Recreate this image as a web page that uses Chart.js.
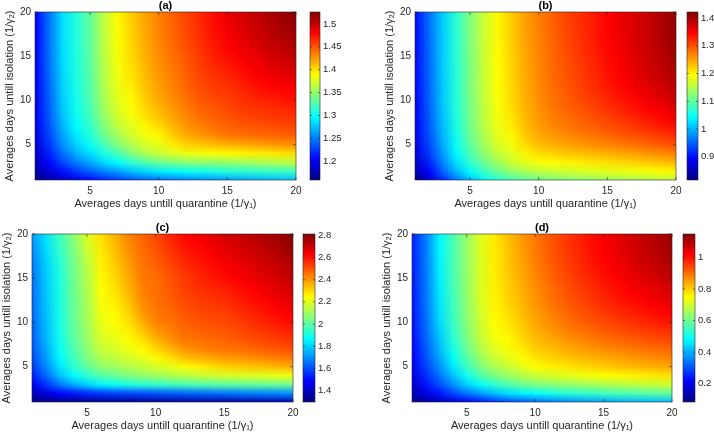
<!DOCTYPE html>
<html>
<head>
<meta charset="utf-8">
<script src="https://cdn.jsdelivr.net/npm/chart.js"></script>
<style>
  body { margin: 0; width: 714px; height: 436px; background: #fff; position: relative; overflow: hidden; }
  canvas { position: absolute; }
</style>
</head>
<body>
<script>
// grid coordinates (days)
const quarantineDays = [1, 2, 3, 4, 5, 6, 7, 8, 9, 10, 11, 12, 13, 14, 15, 16, 17, 18, 19, 20];
const isolationDays = [1, 2, 3, 4, 5, 6, 7, 8, 9, 10, 11, 12, 13, 14, 15, 16, 17, 18, 19, 20];
const axisTicks = [5, 10, 15, 20];
const xTitle = 'Averages days untill quarantine (1/γ₁)';
const yTitle = 'Averages days untill isolation (1/γ₂)';

// each inner array is one quarantine column (x = 1..20), values from isolation = 1 up to 20
const colsA = [
  [1.160,1.172,1.181,1.187,1.192,1.195,1.197,1.199,1.200,1.201,1.202,1.203,1.203,1.204,1.204,1.205,1.205,1.205,1.206,1.206],
  [1.172,1.192,1.206,1.216,1.224,1.229,1.233,1.236,1.238,1.240,1.241,1.242,1.243,1.244,1.245,1.245,1.246,1.246,1.246,1.247],
  [1.184,1.210,1.230,1.245,1.256,1.264,1.270,1.274,1.277,1.279,1.281,1.282,1.283,1.284,1.285,1.285,1.286,1.286,1.286,1.287],
  [1.196,1.226,1.250,1.268,1.281,1.290,1.296,1.300,1.302,1.304,1.305,1.306,1.307,1.307,1.308,1.308,1.309,1.309,1.309,1.310],
  [1.207,1.240,1.266,1.285,1.299,1.309,1.315,1.320,1.323,1.325,1.327,1.328,1.329,1.330,1.330,1.331,1.332,1.332,1.333,1.333],
  [1.217,1.253,1.283,1.305,1.322,1.334,1.343,1.349,1.354,1.357,1.359,1.361,1.362,1.363,1.364,1.365,1.365,1.366,1.366,1.366],
  [1.226,1.262,1.297,1.322,1.343,1.356,1.365,1.371,1.375,1.378,1.380,1.382,1.384,1.385,1.386,1.387,1.388,1.389,1.390,1.390],
  [1.233,1.275,1.312,1.343,1.360,1.371,1.378,1.383,1.387,1.390,1.393,1.396,1.398,1.400,1.402,1.403,1.404,1.405,1.406,1.406],
  [1.240,1.283,1.325,1.358,1.374,1.384,1.391,1.397,1.402,1.406,1.409,1.411,1.413,1.415,1.417,1.418,1.419,1.420,1.421,1.422],
  [1.245,1.290,1.335,1.368,1.380,1.390,1.400,1.408,1.414,1.419,1.422,1.424,1.426,1.428,1.430,1.431,1.432,1.433,1.433,1.434],
  [1.250,1.295,1.340,1.376,1.395,1.406,1.414,1.420,1.425,1.429,1.432,1.434,1.436,1.438,1.440,1.442,1.443,1.444,1.445,1.446],
  [1.253,1.300,1.345,1.381,1.404,1.418,1.426,1.431,1.435,1.439,1.442,1.444,1.446,1.448,1.450,1.452,1.453,1.454,1.455,1.456],
  [1.256,1.303,1.347,1.384,1.408,1.424,1.433,1.439,1.444,1.448,1.451,1.454,1.456,1.458,1.460,1.462,1.464,1.465,1.466,1.467],
  [1.259,1.306,1.348,1.387,1.412,1.431,1.440,1.445,1.449,1.453,1.457,1.460,1.463,1.466,1.469,1.471,1.473,1.475,1.476,1.477],
  [1.262,1.310,1.350,1.390,1.415,1.437,1.445,1.449,1.453,1.457,1.460,1.464,1.468,1.472,1.476,1.479,1.482,1.484,1.486,1.487],
  [1.265,1.312,1.353,1.392,1.418,1.439,1.448,1.453,1.458,1.462,1.466,1.470,1.474,1.478,1.482,1.486,1.489,1.491,1.493,1.494],
  [1.268,1.314,1.356,1.394,1.421,1.441,1.450,1.456,1.461,1.466,1.471,1.476,1.480,1.484,1.488,1.492,1.495,1.498,1.500,1.501],
  [1.270,1.316,1.359,1.396,1.423,1.442,1.451,1.458,1.463,1.469,1.475,1.480,1.485,1.490,1.495,1.499,1.502,1.505,1.507,1.508],
  [1.273,1.318,1.362,1.398,1.426,1.444,1.453,1.460,1.466,1.472,1.478,1.483,1.489,1.494,1.499,1.504,1.508,1.511,1.514,1.515],
  [1.275,1.320,1.365,1.400,1.428,1.445,1.455,1.462,1.468,1.474,1.480,1.486,1.492,1.498,1.503,1.508,1.512,1.516,1.519,1.522]
];
const colorTicksA = [1.2, 1.25, 1.3, 1.35, 1.4, 1.45, 1.5];
const limitsA = [1.159, 1.526];

const colsB = [
  [0.820,0.845,0.860,0.870,0.877,0.882,0.886,0.889,0.891,0.893,0.894,0.895,0.896,0.897,0.898,0.898,0.899,0.899,0.900,0.900],
  [0.860,0.893,0.912,0.925,0.934,0.940,0.944,0.947,0.949,0.951,0.952,0.953,0.954,0.955,0.955,0.956,0.956,0.957,0.957,0.957],
  [0.915,0.950,0.970,0.984,0.993,0.999,1.003,1.006,1.008,1.010,1.011,1.012,1.013,1.013,1.014,1.014,1.014,1.015,1.015,1.015],
  [0.965,1.002,1.025,1.040,1.049,1.055,1.059,1.062,1.064,1.065,1.066,1.067,1.068,1.068,1.069,1.069,1.069,1.070,1.070,1.070],
  [1.005,1.045,1.072,1.089,1.100,1.107,1.111,1.114,1.116,1.117,1.118,1.119,1.119,1.120,1.120,1.120,1.121,1.121,1.121,1.121],
  [1.040,1.080,1.108,1.127,1.140,1.148,1.153,1.156,1.158,1.160,1.161,1.162,1.163,1.163,1.164,1.164,1.165,1.165,1.165,1.165],
  [1.065,1.108,1.138,1.158,1.170,1.178,1.183,1.187,1.190,1.192,1.193,1.194,1.195,1.196,1.196,1.197,1.197,1.198,1.198,1.198],
  [1.085,1.130,1.162,1.176,1.189,1.197,1.204,1.209,1.213,1.216,1.218,1.219,1.220,1.221,1.222,1.223,1.224,1.224,1.225,1.225],
  [1.100,1.145,1.181,1.202,1.217,1.226,1.232,1.236,1.239,1.241,1.243,1.244,1.245,1.246,1.247,1.248,1.249,1.250,1.251,1.251],
  [1.110,1.155,1.190,1.213,1.233,1.244,1.252,1.256,1.259,1.262,1.263,1.264,1.265,1.266,1.267,1.268,1.269,1.270,1.271,1.271],
  [1.117,1.162,1.196,1.221,1.242,1.255,1.265,1.270,1.274,1.278,1.280,1.282,1.283,1.284,1.285,1.286,1.287,1.288,1.289,1.289],
  [1.123,1.167,1.201,1.227,1.249,1.263,1.274,1.280,1.286,1.290,1.293,1.295,1.297,1.298,1.300,1.302,1.303,1.304,1.305,1.305],
  [1.128,1.171,1.205,1.232,1.255,1.270,1.282,1.289,1.296,1.301,1.305,1.308,1.310,1.311,1.314,1.316,1.317,1.318,1.319,1.319],
  [1.133,1.175,1.209,1.237,1.261,1.277,1.290,1.298,1.306,1.312,1.317,1.321,1.322,1.324,1.327,1.329,1.330,1.331,1.332,1.332],
  [1.137,1.179,1.213,1.242,1.267,1.284,1.298,1.307,1.316,1.323,1.329,1.333,1.336,1.338,1.341,1.343,1.344,1.345,1.345,1.345],
  [1.141,1.183,1.217,1.247,1.273,1.291,1.306,1.316,1.326,1.334,1.340,1.345,1.348,1.350,1.353,1.355,1.356,1.357,1.357,1.357],
  [1.145,1.187,1.222,1.252,1.279,1.298,1.314,1.325,1.335,1.344,1.351,1.356,1.360,1.362,1.365,1.367,1.368,1.369,1.369,1.369],
  [1.149,1.191,1.227,1.258,1.286,1.305,1.322,1.334,1.345,1.354,1.361,1.367,1.371,1.374,1.377,1.379,1.380,1.381,1.381,1.381],
  [1.153,1.196,1.232,1.264,1.293,1.313,1.331,1.343,1.354,1.364,1.372,1.378,1.383,1.386,1.390,1.392,1.394,1.395,1.395,1.395],
  [1.157,1.200,1.237,1.270,1.300,1.321,1.340,1.353,1.365,1.375,1.384,1.391,1.396,1.399,1.403,1.406,1.408,1.409,1.410,1.410]
];
const colorTicksB = [0.9, 1, 1.1, 1.2, 1.3, 1.4];
const limitsB = [0.816, 1.422];

const colsC = [
  [1.300,1.380,1.470,1.530,1.570,1.595,1.612,1.624,1.633,1.640,1.645,1.649,1.652,1.655,1.658,1.664,1.675,1.690,1.705,1.720],
  [1.305,1.440,1.560,1.640,1.690,1.720,1.740,1.753,1.762,1.769,1.774,1.778,1.781,1.784,1.787,1.792,1.800,1.810,1.820,1.830],
  [1.310,1.490,1.660,1.770,1.830,1.860,1.878,1.888,1.894,1.898,1.901,1.903,1.905,1.906,1.908,1.915,1.925,1.937,1.949,1.960],
  [1.315,1.520,1.740,1.860,1.925,1.960,1.983,1.998,2.008,2.015,2.020,2.024,2.027,2.029,2.031,2.036,2.044,2.053,2.062,2.070],
  [1.320,1.545,1.800,1.930,2.010,2.050,2.075,2.090,2.100,2.108,2.114,2.119,2.123,2.127,2.131,2.138,2.150,2.165,2.182,2.200],
  [1.322,1.565,1.850,1.990,2.075,2.125,2.160,2.183,2.200,2.212,2.222,2.230,2.237,2.243,2.250,2.257,2.264,2.272,2.281,2.290],
  [1.325,1.580,1.880,2.020,2.100,2.150,2.185,2.208,2.226,2.240,2.252,2.263,2.274,2.287,2.300,2.312,2.324,2.336,2.348,2.360],
  [1.328,1.590,1.905,2.055,2.130,2.180,2.215,2.240,2.262,2.285,2.305,2.325,2.343,2.357,2.370,2.382,2.394,2.406,2.418,2.430],
  [1.330,1.600,1.925,2.080,2.155,2.205,2.245,2.285,2.325,2.360,2.390,2.410,2.424,2.432,2.440,2.447,2.455,2.462,2.469,2.475],
  [1.333,1.610,1.940,2.100,2.180,2.240,2.300,2.350,2.395,2.430,2.443,2.450,2.455,2.458,2.462,2.472,2.484,2.496,2.508,2.520],
  [1.336,1.620,1.955,2.120,2.205,2.285,2.350,2.400,2.428,2.448,2.464,2.476,2.486,2.494,2.500,2.512,2.527,2.542,2.556,2.570],
  [1.340,1.630,1.970,2.140,2.235,2.330,2.400,2.440,2.462,2.480,2.495,2.508,2.519,2.528,2.535,2.548,2.565,2.585,2.600,2.615],
  [1.343,1.640,1.980,2.155,2.260,2.360,2.420,2.452,2.475,2.495,2.512,2.527,2.540,2.552,2.563,2.577,2.592,2.608,2.624,2.640],
  [1.346,1.650,1.990,2.168,2.285,2.375,2.437,2.465,2.487,2.506,2.522,2.538,2.552,2.568,2.585,2.600,2.615,2.632,2.648,2.665],
  [1.350,1.660,2.000,2.180,2.310,2.390,2.450,2.475,2.495,2.515,2.530,2.550,2.565,2.585,2.610,2.625,2.640,2.655,2.672,2.690],
  [1.353,1.668,2.006,2.188,2.320,2.402,2.460,2.490,2.512,2.532,2.550,2.570,2.587,2.606,2.630,2.645,2.660,2.676,2.693,2.710],
  [1.356,1.675,2.012,2.196,2.330,2.414,2.472,2.505,2.530,2.552,2.572,2.592,2.610,2.628,2.650,2.665,2.680,2.697,2.713,2.730],
  [1.360,1.683,2.018,2.204,2.340,2.426,2.484,2.520,2.547,2.572,2.594,2.614,2.633,2.651,2.670,2.686,2.702,2.718,2.734,2.750],
  [1.363,1.691,2.024,2.212,2.350,2.438,2.497,2.535,2.564,2.591,2.615,2.635,2.654,2.673,2.692,2.710,2.727,2.744,2.760,2.775],
  [1.366,1.700,2.030,2.220,2.360,2.450,2.510,2.550,2.580,2.610,2.635,2.655,2.675,2.695,2.715,2.735,2.752,2.770,2.786,2.800]
];
const colorTicksC = [1.4, 1.6, 1.8, 2, 2.2, 2.4, 2.6, 2.8];
const limitsC = [1.294, 2.814];

const colsD = [
  [0.090,0.140,0.170,0.190,0.205,0.215,0.222,0.228,0.232,0.236,0.239,0.241,0.243,0.245,0.246,0.247,0.248,0.249,0.250,0.250],
  [0.120,0.190,0.235,0.265,0.287,0.302,0.314,0.323,0.330,0.335,0.339,0.342,0.344,0.346,0.347,0.348,0.349,0.350,0.350,0.350],
  [0.150,0.240,0.300,0.340,0.370,0.393,0.410,0.423,0.433,0.445,0.451,0.456,0.460,0.464,0.468,0.471,0.474,0.477,0.479,0.480],
  [0.180,0.290,0.370,0.420,0.460,0.490,0.510,0.525,0.535,0.543,0.548,0.552,0.555,0.557,0.559,0.560,0.561,0.562,0.563,0.565],
  [0.210,0.340,0.440,0.500,0.545,0.575,0.595,0.610,0.620,0.627,0.632,0.635,0.637,0.639,0.640,0.641,0.642,0.643,0.644,0.645],
  [0.240,0.380,0.490,0.565,0.615,0.645,0.668,0.683,0.694,0.700,0.705,0.708,0.710,0.712,0.713,0.714,0.715,0.716,0.717,0.718],
  [0.265,0.420,0.530,0.610,0.660,0.695,0.718,0.733,0.743,0.750,0.755,0.758,0.761,0.763,0.765,0.766,0.767,0.768,0.769,0.770],
  [0.290,0.450,0.565,0.640,0.690,0.720,0.740,0.752,0.763,0.773,0.781,0.788,0.794,0.799,0.803,0.806,0.808,0.810,0.812,0.814],
  [0.310,0.470,0.595,0.670,0.722,0.750,0.770,0.785,0.797,0.806,0.814,0.821,0.827,0.832,0.837,0.841,0.845,0.848,0.851,0.853],
  [0.330,0.490,0.614,0.693,0.748,0.774,0.798,0.814,0.829,0.840,0.849,0.857,0.862,0.867,0.873,0.878,0.882,0.886,0.889,0.891],
  [0.345,0.505,0.624,0.706,0.761,0.791,0.816,0.834,0.851,0.864,0.875,0.885,0.892,0.898,0.905,0.911,0.915,0.918,0.920,0.922],
  [0.360,0.520,0.634,0.718,0.771,0.804,0.832,0.853,0.873,0.887,0.899,0.910,0.917,0.924,0.932,0.938,0.943,0.947,0.950,0.952],
  [0.370,0.530,0.644,0.728,0.781,0.816,0.846,0.869,0.890,0.906,0.919,0.931,0.939,0.947,0.955,0.962,0.967,0.971,0.974,0.976],
  [0.380,0.540,0.654,0.738,0.791,0.826,0.858,0.883,0.905,0.923,0.937,0.950,0.960,0.968,0.977,0.985,0.991,0.995,0.998,1.000],
  [0.390,0.550,0.664,0.746,0.801,0.836,0.869,0.895,0.918,0.937,0.953,0.967,0.978,0.988,0.998,1.006,1.012,1.016,1.019,1.020],
  [0.400,0.560,0.672,0.754,0.811,0.846,0.879,0.906,0.930,0.950,0.967,0.982,0.994,1.004,1.015,1.024,1.030,1.035,1.038,1.040],
  [0.405,0.567,0.679,0.761,0.819,0.855,0.888,0.915,0.941,0.962,0.980,0.996,1.009,1.020,1.032,1.042,1.050,1.055,1.058,1.060],
  [0.410,0.574,0.686,0.768,0.826,0.863,0.896,0.924,0.951,0.973,0.992,1.009,1.023,1.035,1.048,1.059,1.068,1.074,1.078,1.080],
  [0.415,0.580,0.692,0.774,0.833,0.871,0.904,0.932,0.960,0.983,1.003,1.021,1.036,1.049,1.063,1.075,1.085,1.092,1.097,1.100],
  [0.420,0.585,0.699,0.780,0.839,0.878,0.911,0.939,0.968,0.992,1.013,1.032,1.048,1.062,1.077,1.090,1.101,1.110,1.116,1.120]
];
const colorTicksD = [0.2, 0.4, 0.6, 0.8, 1];
const limitsD = [0.085, 1.147];

const panelLabels = ['(a)', '(b)', '(c)', '(d)'];

// where each plot box and colour bar sits on the page: [left, right, top, bottom] and [left, right]
const plotBoxes = [[35, 296, 12, 180], [415, 676, 12, 180], [32, 293, 234, 402], [412, 672, 234, 402]];
const barBoxes = [[310, 320], [687, 698], [303, 315], [683, 695]];

const FONT = '"Liberation Sans", Arial, Helvetica, sans-serif';
const INK = '#262626';

// MATLAB jet colormap
function jetRGB(t) {
  t = Math.min(1, Math.max(0, t));
  const c = v => Math.round(255 * Math.min(1, Math.max(0, v)));
  return [c(1.5 - Math.abs(4 * t - 3)), c(1.5 - Math.abs(4 * t - 2)), c(1.5 - Math.abs(4 * t - 1))];
}
function jet(t) {
  const [r, g, b] = jetRGB(t);
  return `rgb(${r},${g},${b})`;
}

function cellPoints(cols) {
  const pts = [];
  cols.forEach((col, i) => {
    col.forEach((v, j) => {
      pts.push({ x: quarantineDays[i], y: isolationDays[j], v, i, j });
    });
  });
  return pts;
}

// paints the value grid (one texel per grid point) stretched over the scales, with smoothing
const heatCells = {
  id: 'heatCells',
  beforeDatasetsDraw(chart, args, opts) {
    const { ctx, chartArea, scales: { x, y } } = chart;
    const [lo, hi] = opts.limits;
    const nx = quarantineDays.length, ny = isolationDays.length;
    const off = document.createElement('canvas');
    off.width = nx; off.height = ny;
    const octx = off.getContext('2d');
    const img = octx.createImageData(nx, ny);
    chart.data.datasets[0].data.forEach(p => {
      const k = ((ny - 1 - p.j) * nx + p.i) * 4;
      const [r, g, b] = jetRGB((p.v - lo) / (hi - lo));
      img.data[k] = r; img.data[k + 1] = g; img.data[k + 2] = b; img.data[k + 3] = 255;
    });
    octx.putImageData(img, 0, 0);
    const dx = quarantineDays[1] - quarantineDays[0];
    const dy = isolationDays[1] - isolationDays[0];
    const l = x.getPixelForValue(quarantineDays[0] - dx / 2);
    const r = x.getPixelForValue(quarantineDays[nx - 1] + dx / 2);
    const t = y.getPixelForValue(isolationDays[ny - 1] + dy / 2);
    const b = y.getPixelForValue(isolationDays[0] - dy / 2);
    ctx.save();
    ctx.beginPath();
    ctx.rect(chartArea.left, chartArea.top, chartArea.width, chartArea.height);
    ctx.clip();
    ctx.imageSmoothingEnabled = true;
    ctx.drawImage(off, l, t, r - l, b - t);
    ctx.restore();
  },
  afterDraw(chart, args, opts) {
    const { ctx, chartArea: a, scales: { x, y } } = chart;
    ctx.save();
    ctx.strokeStyle = INK;
    ctx.lineWidth = 0.6;
    ctx.strokeRect(a.left, a.top, a.width, a.height);
    ctx.beginPath();
    x.ticks.forEach(t => {
      const px = x.getPixelForValue(t.value);
      ctx.moveTo(px, a.bottom); ctx.lineTo(px, a.bottom - 3);
      ctx.moveTo(px, a.top); ctx.lineTo(px, a.top + 3);
    });
    y.ticks.forEach(t => {
      const py = y.getPixelForValue(t.value);
      ctx.moveTo(a.left, py); ctx.lineTo(a.left + 3, py);
      ctx.moveTo(a.right, py); ctx.lineTo(a.right - 3, py);
    });
    ctx.stroke();
    ctx.fillStyle = '#000';
    ctx.font = `bold 11px ${FONT}`;
    ctx.textAlign = 'center';
    ctx.textBaseline = 'middle';
    ctx.fillText(opts.label, (a.left + a.right) / 2, a.top - 6);
    ctx.restore();
  }
};

// colour bar gradient + frame
const colorBar = {
  id: 'colorBar',
  beforeDatasetsDraw(chart) {
    const { ctx, chartArea: a, scales: { y } } = chart;
    const g = ctx.createLinearGradient(0, a.bottom, 0, a.top);
    [0, 0.125, 0.25, 0.375, 0.5, 0.625, 0.75, 0.875, 1].forEach(s => g.addColorStop(s, jet(s)));
    ctx.save();
    ctx.fillStyle = g;
    ctx.fillRect(a.left, a.top, a.width, a.height);
    ctx.strokeStyle = INK;
    ctx.lineWidth = 0.6;
    ctx.strokeRect(a.left, a.top, a.width, a.height);
    ctx.beginPath();
    y.ticks.forEach(t => {
      const py = y.getPixelForValue(t.value);
      ctx.moveTo(a.right, py); ctx.lineTo(a.right - 2, py);
      ctx.moveTo(a.left, py); ctx.lineTo(a.left + 2, py);
    });
    ctx.stroke();
    ctx.restore();
  }
};

function addCanvas(left, top, w, h) {
  const c = document.createElement('canvas');
  c.width = w; c.height = h;
  c.style.left = left + 'px'; c.style.top = top + 'px';
  c.style.width = w + 'px'; c.style.height = h + 'px';
  document.body.appendChild(c);
  return c.getContext('2d');
}

const TOP = 14, BOTTOM = 40, LEFT = 40, RIGHT = 12;

function drawPanel(k, cols, colorTicks, limits) {
  const [pl, pr, pt, pb] = plotBoxes[k];
  const [bl, br] = barBoxes[k];
  const h = TOP + (pb - pt) + BOTTOM;

  const mapCtx = addCanvas(pl - LEFT, pt - TOP, LEFT + (pr - pl) + RIGHT, h);
  new Chart(mapCtx, {
    type: 'scatter',
    data: { datasets: [{ data: cellPoints(cols), pointRadius: 0, pointHoverRadius: 0 }] },
    options: {
      responsive: false,
      animation: false,
      devicePixelRatio: 1,
      events: [],
      layout: { padding: { left: 0, right: RIGHT, top: TOP, bottom: 0 } },
      plugins: {
        legend: { display: false },
        tooltip: { enabled: false },
        heatCells: { limits: limits, label: panelLabels[k] }
      },
      scales: {
        x: {
          type: 'linear', min: quarantineDays[0], max: quarantineDays[quarantineDays.length - 1],
          afterBuildTicks: s => { s.ticks = axisTicks.map(v => ({ value: v })); },
          afterFit: s => { s.height = BOTTOM; },
          grid: { display: false, drawTicks: false }, border: { display: false },
          ticks: { color: INK, font: { family: FONT, size: 10 }, padding: 5, maxRotation: 0 },
          title: { display: true, text: xTitle, color: INK, font: { family: FONT, size: 11 }, padding: { top: 0, bottom: 9 } }
        },
        y: {
          type: 'linear', min: isolationDays[0], max: isolationDays[isolationDays.length - 1],
          afterBuildTicks: s => { s.ticks = axisTicks.map(v => ({ value: v })); },
          afterFit: s => { s.width = LEFT; },
          grid: { display: false, drawTicks: false }, border: { display: false },
          ticks: { color: INK, font: { family: FONT, size: 10 }, padding: 4 },
          title: { display: true, text: yTitle, color: INK, font: { family: FONT, size: 11 }, padding: { top: 8, bottom: 0 } }
        }
      }
    },
    plugins: [heatCells]
  });

  const barCtx = addCanvas(bl - 2, pt - TOP, 2 + (br - bl) + 40, h);
  new Chart(barCtx, {
    type: 'scatter',
    data: { datasets: [{ data: [] }] },
    options: {
      responsive: false,
      animation: false,
      devicePixelRatio: 1,
      events: [],
      layout: { padding: { left: 2, right: 0, top: TOP, bottom: BOTTOM } },
      plugins: { legend: { display: false }, tooltip: { enabled: false } },
      scales: {
        x: { display: false, min: 0, max: 1 },
        y: {
          position: 'right', min: limits[0], max: limits[1],
          afterBuildTicks: s => { s.ticks = colorTicks.map(v => ({ value: v })); },
          afterFit: s => { s.width = 40; },
          grid: { display: false, drawTicks: false }, border: { display: false },
          ticks: { color: INK, font: { family: FONT, size: 9.5 }, padding: 3, callback: v => String(+v.toFixed(3)) }
        }
      }
    },
    plugins: [colorBar]
  });
}

drawPanel(0, colsA, colorTicksA, limitsA);
drawPanel(1, colsB, colorTicksB, limitsB);
drawPanel(2, colsC, colorTicksC, limitsC);
drawPanel(3, colsD, colorTicksD, limitsD);
</script>
</body>
</html>
